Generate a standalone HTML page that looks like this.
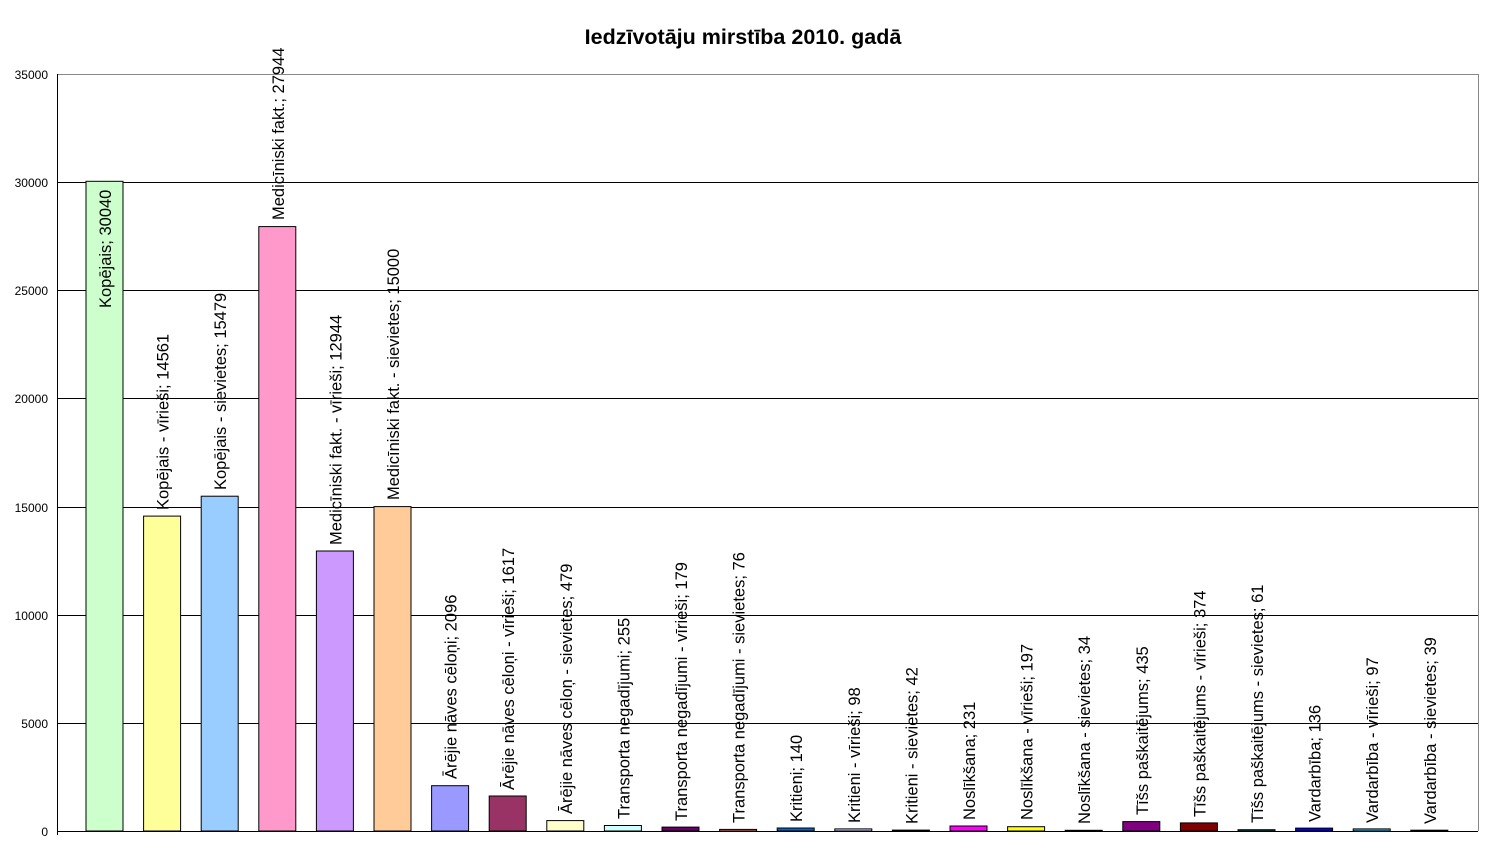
<!DOCTYPE html>
<html><head><meta charset="utf-8"><style>body{margin:0;background:#fff}svg{display:block}text{font-family:"Liberation Sans",Arial,sans-serif}</style></head><body>
<svg width="1487" height="863" xmlns="http://www.w3.org/2000/svg">
<rect width="1487" height="863" fill="#fff"/>
<text x="743" y="44" font-size="21.5" font-weight="bold" text-anchor="middle">Iedzīvotāju mirstība 2010. gadā</text>
<g stroke="#000" stroke-width="1">
<line x1="57" y1="74.5" x2="1478" y2="74.5" stroke="#888"/>
<line x1="1478.5" y1="74" x2="1478.5" y2="831" stroke="#888"/>
<line x1="57" y1="182.5" x2="1478" y2="182.5"/>
<line x1="57" y1="290.5" x2="1478" y2="290.5"/>
<line x1="57" y1="398.5" x2="1478" y2="398.5"/>
<line x1="57" y1="507.5" x2="1478" y2="507.5"/>
<line x1="57" y1="615.5" x2="1478" y2="615.5"/>
<line x1="57" y1="723.5" x2="1478" y2="723.5"/>
<line x1="57" y1="831.5" x2="1478" y2="831.5"/>
<line x1="57.5" y1="74" x2="57.5" y2="835"/>
</g>
<g font-size="12" text-anchor="end">
<text x="48" y="79">35000</text><text x="48" y="187">30000</text><text x="48" y="295">25000</text><text x="48" y="403">20000</text><text x="48" y="512">15000</text><text x="48" y="620">10000</text><text x="48" y="728">5000</text><text x="48" y="836">0</text>
</g>
<g stroke="#000" stroke-width="1">
<rect x="86" y="181.3" width="37" height="649.7" fill="#CCFFCC"/>
<rect x="143.6" y="516.1" width="37" height="314.9" fill="#FFFF99"/>
<rect x="201.2" y="496.2" width="37" height="334.8" fill="#99CCFF"/>
<rect x="258.8" y="226.6" width="37" height="604.4" fill="#FF99CC"/>
<rect x="316.4" y="551" width="37" height="280" fill="#CC99FF"/>
<rect x="374" y="506.6" width="37" height="324.4" fill="#FFCC99"/>
<rect x="431.6" y="785.7" width="37" height="45.3" fill="#9999FF"/>
<rect x="489.2" y="796" width="37" height="35" fill="#993366"/>
<rect x="546.8" y="820.6" width="37" height="10.4" fill="#FFFFCC"/>
<rect x="604.4" y="825.5" width="37" height="5.5" fill="#CCFFFF"/>
<rect x="662" y="827.1" width="37" height="3.9" fill="#660066"/>
<rect x="719.6" y="829.4" width="37" height="1.6" fill="#FF8080"/>
<rect x="777.2" y="828" width="37" height="3" fill="#0066CC"/>
<rect x="834.8" y="828.9" width="37" height="2.1" fill="#CCCCFF"/>
<rect x="892.4" y="830.1" width="37" height="0.9" fill="#000080"/>
<rect x="950" y="826" width="37" height="5" fill="#FF00FF"/>
<rect x="1007.6" y="826.7" width="37" height="4.3" fill="#FFFF00"/>
<rect x="1065.2" y="830.3" width="37" height="0.7" fill="#00FFFF"/>
<rect x="1122.8" y="821.6" width="37" height="9.4" fill="#800080"/>
<rect x="1180.4" y="822.9" width="37" height="8.1" fill="#800000"/>
<rect x="1238" y="829.7" width="37" height="1.3" fill="#008080"/>
<rect x="1295.6" y="828.1" width="37" height="2.9" fill="#0000FF"/>
<rect x="1353.2" y="828.9" width="37" height="2.1" fill="#00CCFF"/>
<rect x="1410.8" y="830.2" width="37" height="0.8" fill="#CCFFFF"/>
</g>
<g font-size="16.5">
<text transform="translate(111,308) rotate(-90)">Kopējais; 30040</text>
<text transform="translate(168.6,510) rotate(-90)">Kopējais - vīrieši; 14561</text>
<text transform="translate(226.2,490) rotate(-90)">Kopējais - sievietes; 15479</text>
<text transform="translate(283.8,220) rotate(-90)">Medicīniski fakt.; 27944</text>
<text transform="translate(341.4,545) rotate(-90)">Medicīniski fakt. - vīrieši; 12944</text>
<text transform="translate(399,500) rotate(-90)">Medicīniski fakt. - sievietes; 15000</text>
<text transform="translate(456.6,779) rotate(-90)">Ārējie nāves cēloņi; 2096</text>
<text transform="translate(514.2,790) rotate(-90)">Ārējie nāves cēloņi - vīrieši; 1617</text>
<text transform="translate(571.8,814) rotate(-90)">Ārējie nāves cēloņ - sievietes; 479</text>
<text transform="translate(629.4,819) rotate(-90)">Transporta negadījumi; 255</text>
<text transform="translate(687,821) rotate(-90)">Transporta negadījumi - vīrieši; 179</text>
<text transform="translate(744.6,823) rotate(-90)">Transporta negadījumi - sievietes; 76</text>
<text transform="translate(802.2,822) rotate(-90)">Kritieni; 140</text>
<text transform="translate(859.8,823) rotate(-90)">Kritieni - vīrieši; 98</text>
<text transform="translate(917.4,824) rotate(-90)">Kritieni - sievietes; 42</text>
<text transform="translate(975,820) rotate(-90)">Noslīkšana; 231</text>
<text transform="translate(1032.6,820) rotate(-90)">Noslīkšana - vīrieši; 197</text>
<text transform="translate(1090.2,824) rotate(-90)">Noslīkšana - sievietes; 34</text>
<text transform="translate(1147.8,815) rotate(-90)">Tīšs paškaitējums; 435</text>
<text transform="translate(1205.4,817) rotate(-90)">Tīšs paškaitējums - vīrieši; 374</text>
<text transform="translate(1263,823) rotate(-90)">Tīšs paškaitējums - sievietes; 61</text>
<text transform="translate(1320.6,822) rotate(-90)">Vardarbība; 136</text>
<text transform="translate(1378.2,823) rotate(-90)">Vardarbība - vīrieši; 97</text>
<text transform="translate(1435.8,824) rotate(-90)">Vardarbība - sievietes; 39</text>
</g>
</svg>
</body></html>
